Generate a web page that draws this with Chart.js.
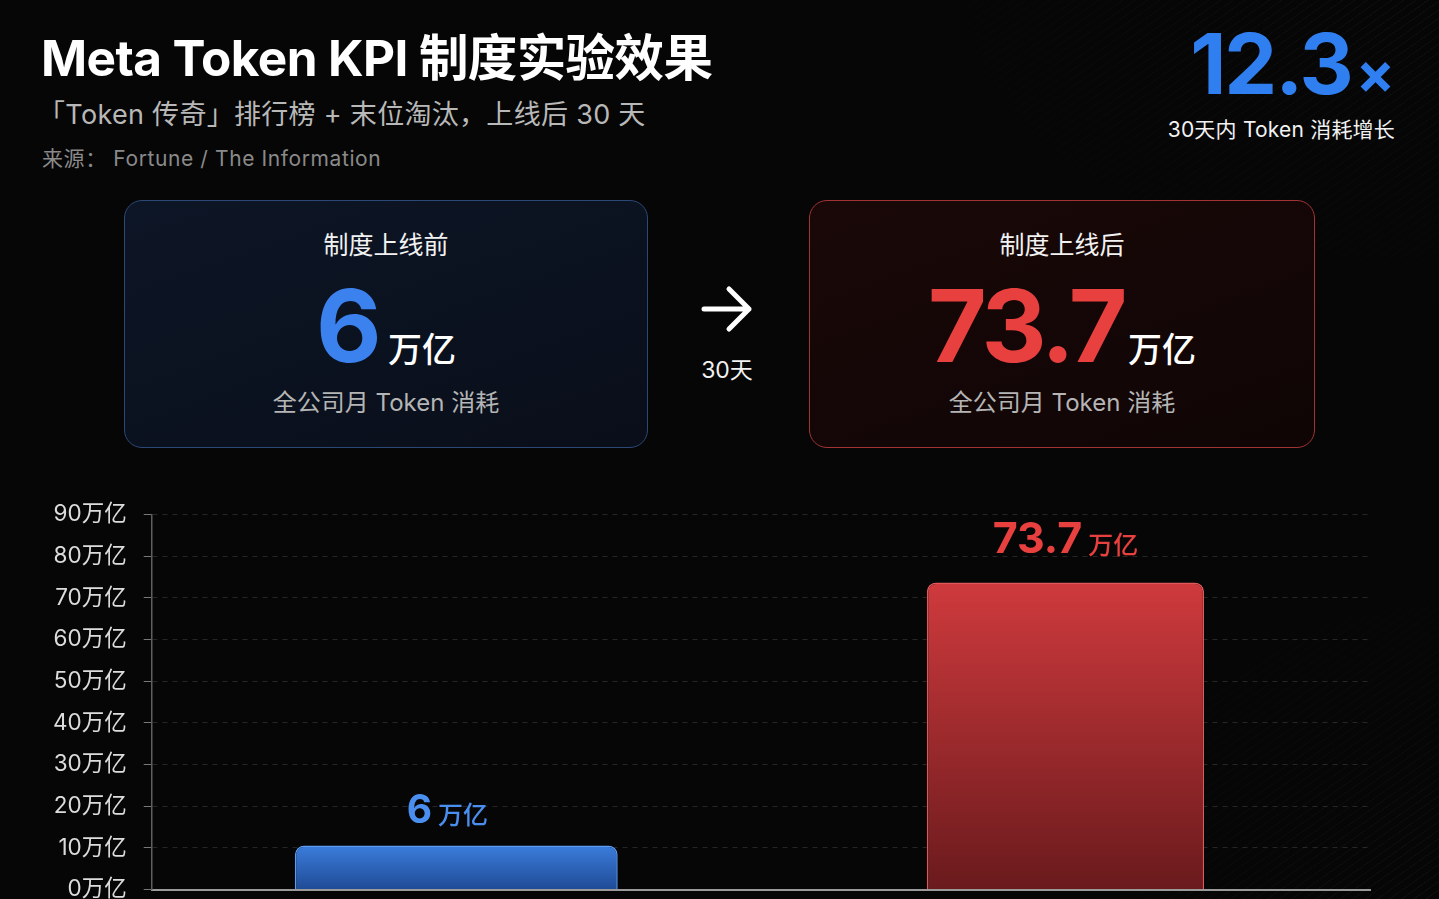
<!DOCTYPE html>
<html lang="zh-CN">
<head>
<meta charset="utf-8">
<title>Meta Token KPI 制度实验效果</title>
<script src="https://cdn.jsdelivr.net/npm/chart.js@4.4.1/dist/chart.umd.min.js"></script>
<style>
    html, body {
        margin: 0;
        padding: 0;
    }
    body {
        width: 1439px;
        height: 899px;
        overflow: hidden;
        position: relative;
        background: #060606;
        font-family: "Inter", "Noto Sans CJK SC", sans-serif;
        color: #fff;
    }
    .streaks {
        position: absolute;
        inset: 0;
        background: repeating-linear-gradient(-35deg, rgba(255,255,255,0.035) 0 1px, transparent 1px 7px);
        -webkit-mask-image: radial-gradient(ellipse 45% 40% at 100% 0%, #000 0%, transparent 100%),
                            radial-gradient(ellipse 30% 45% at 100% 100%, #000 0%, transparent 100%);
        mask-image: radial-gradient(ellipse 45% 40% at 100% 0%, #000 0%, transparent 100%),
                    radial-gradient(ellipse 30% 45% at 100% 100%, #000 0%, transparent 100%);
        pointer-events: none;
    }
    .title {
        position: absolute;
        left: 41px;
        top: 19px;
        font-size: 49.5px;
        font-weight: 700;
        letter-spacing: -0.6px;
        white-space: nowrap;
    }
    .subtitle {
        position: absolute;
        left: 38px;
        top: 93px;
        font-size: 27px;
        color: #b8b8b8;
        letter-spacing: 0.3px;
        white-space: nowrap;
    }
    .source {
        position: absolute;
        left: 42px;
        top: 142px;
        font-size: 21px;
        color: #8a8a8a;
        letter-spacing: 0.6px;
        white-space: nowrap;
    }
    .multiple {
        position: absolute;
        right: 44px;
        top: 14px;
        text-align: right;
    }
    .multiple .big {
        font-size: 84px;
        font-weight: 700;
        color: #2f7ff0;
        letter-spacing: -2px;
        line-height: 100px;
    }
    .multiple .big small {
        font-size: 58px;
        letter-spacing: 0;
        margin-left: 4px;
    }
    .multiple .cap {
        font-size: 21px;
        color: #f2f2f2;
        margin-top: -10px;
        letter-spacing: 0.2px;
    }
    .card {
        position: absolute;
        top: 200px;
        height: 248px;
        border-radius: 18px;
        box-sizing: border-box;
        text-align: center;
    }
    .card.before {
        left: 124px;
        width: 524px;
        border: 1.5px solid #2c4877;
        background: linear-gradient(160deg, #0d1626 0%, #090e19 100%);
    }
    .card.after {
        left: 809px;
        width: 506px;
        border: 1.5px solid #a13334;
        background: linear-gradient(160deg, #1a0808 0%, #0f0505 100%);
    }
    .card .head {
        position: absolute;
        left: 0; right: 0;
        top: 24px;
        font-size: 25px;
        color: #f2f2f2;
    }
    .card .value {
        position: absolute;
        left: 0; right: 0;
        top: 64px;
        white-space: nowrap;
    }
    .card .num {
        font-size: 101px;
        font-weight: 700;
        letter-spacing: -3.5px;
        line-height: 120px;
    }
    .card .unit {
        font-size: 34px;
        font-weight: 500;
        color: #fff;
        margin-left: 10px;
    }
    .card.after .unit { margin-left: 4px; }
    .card.before .num { color: #3b82ee; }
    .card.after .num { color: #e8403f; }
    .card .foot {
        position: absolute;
        left: 0; right: 0;
        top: 182px;
        font-size: 24px;
        color: #b5b5b5;
    }
    .arrow {
        position: absolute;
        left: 700px;
        top: 284px;
    }
    .days {
        position: absolute;
        left: 690px;
        width: 74px;
        top: 351px;
        text-align: center;
        font-size: 23px;
        color: #f2f2f2;
    }
    #chart-box {
        position: absolute;
        left: 0;
        top: 484px;
        width: 1439px;
        height: 436px;
    }
</style>
</head>
<body>
<div class="streaks"></div>

<div class="title">Meta Token KPI 制度实验效果</div>
<div class="subtitle">「Token 传奇」排行榜 + 末位淘汰，上线后 30 天</div>
<div class="source">来源：&nbsp;Fortune / The Information</div>

<div class="multiple">
    <div class="big"><span id="multiple-num"></span><small>×</small></div>
    <div class="cap">30天内 Token 消耗增长</div>
</div>

<div class="card before">
    <div class="head" id="head-0"></div>
    <div class="value"><span class="num" id="num-0"></span><span class="unit">万亿</span></div>
    <div class="foot">全公司月 Token 消耗</div>
</div>

<svg class="arrow" width="56" height="50" viewBox="0 0 56 50">
    <path d="M4 25 H49 M29 5 L49 25 L29 45" fill="none" stroke="#fff" stroke-width="5" stroke-linecap="round" stroke-linejoin="round"/>
</svg>
<div class="days">30天</div>

<div class="card after">
    <div class="head" id="head-1"></div>
    <div class="value"><span class="num" id="num-1"></span><span class="unit">万亿</span></div>
    <div class="foot">全公司月 Token 消耗</div>
</div>

<div id="chart-box"><canvas id="tokenChart"></canvas></div>

<script>
// monthly company-wide token use, in 万亿 (trillion)
const categories = ['制度上线前', '制度上线后'];
const tokenValues = [6, 73.7];
const unitLabel = '万亿';
const yTickValues = [0, 10, 20, 30, 40, 50, 60, 70, 80, 90];

// header text comes from the same numbers
document.getElementById('head-0').innerText = categories[0];
document.getElementById('head-1').innerText = categories[1];
document.getElementById('num-0').innerText = tokenValues[0];
document.getElementById('num-1').innerText = tokenValues[1];
document.getElementById('multiple-num').innerText = (tokenValues[1] / tokenValues[0]).toFixed(1);

const barStyles = [
    { top: '#3b7ddc', bottom: '#1f4b96', border: '#5c9cf4', label: '#4a8ff0', width: 0.53, minLen: 44, gap: 23, shift: -9 },
    { top: '#cf3a3d', bottom: '#6a1a1d', border: '#e0585a', label: '#e8403f', width: 0.455, minLen: 0, gap: 29, shift: 0 }
];

function barGradient(index) {
    return function(context) {
        const chart = context.chart;
        const area = chart.chartArea;
        const style = barStyles[index];
        if (!area) {
            return style.top;
        }
        const yScale = chart.scales.y;
        let top = yScale.getPixelForValue(tokenValues[index]);
        top = Math.min(top, area.bottom - style.minLen);
        const g = chart.ctx.createLinearGradient(0, top, 0, area.bottom);
        g.addColorStop(0, style.top);
        g.addColorStop(1, style.bottom);
        return g;
    };
}

const datasets = categories.map(function(name, i) {
    return {
        label: name,
        data: tokenValues.map(function(v, j) { return j === i ? v : null; }),
        backgroundColor: barGradient(i),
        borderColor: barStyles[i].border,
        borderWidth: 1.5,
        borderSkipped: 'bottom',
        borderRadius: { topLeft: 9, topRight: 9, bottomLeft: 0, bottomRight: 0 },
        barPercentage: barStyles[i].width,
        categoryPercentage: 1,
        minBarLength: barStyles[i].minLen
    };
});

// "6 万亿" / "73.7 万亿" above each bar
const valueLabels = {
    id: 'valueLabels',
    afterDatasetsDraw(chart) {
        const ctx = chart.ctx;
        chart.data.datasets.forEach(function(ds, i) {
            const meta = chart.getDatasetMeta(i);
            meta.data.forEach(function(bar, j) {
                const v = ds.data[j];
                if (v === null) return;
                const numText = String(v);
                const numFont = i === 0 ? 'bold 39px Inter, "Noto Sans CJK SC"' : 'bold 43px Inter, "Noto Sans CJK SC"';
                const unitFont = '500 25px "Noto Sans CJK SC"';
                ctx.save();
                ctx.font = numFont;
                const nw = ctx.measureText(numText).width;
                ctx.font = unitFont;
                const uw = ctx.measureText(unitLabel).width;
                const gap = 6;
                const startX = bar.x - (nw + gap + uw) / 2 + barStyles[i].shift;
                const baseY = bar.y - barStyles[i].gap;
                ctx.fillStyle = barStyles[i].label;
                ctx.textBaseline = 'alphabetic';
                ctx.textAlign = 'left';
                ctx.font = numFont;
                ctx.fillText(numText, startX, baseY);
                ctx.font = unitFont;
                ctx.fillText(unitLabel, startX + nw + gap, baseY + 1);
                ctx.restore();
            });
        });
    }
};

const chartCtx = document.getElementById('tokenChart').getContext('2d');
const tokenChart = new Chart(chartCtx, {
    type: 'bar',
    data: {
        labels: categories,
        datasets: datasets
    },
    options: {
        responsive: true,
        maintainAspectRatio: false,
        animation: false,
        grouped: false,
        layout: {
            padding: { left: 36, right: 69, top: 1, bottom: 16 }
        },
        plugins: {
            legend: { display: false },
            tooltip: { enabled: false }
        },
        scales: {
            x: {
                grid: { display: false },
                ticks: { display: false },
                border: { display: true, color: '#9a9a9a', width: 2 }
            },
            y: {
                min: 0,
                max: yTickValues[yTickValues.length - 1],
                afterBuildTicks: function(scale) {
                    scale.ticks = yTickValues.map(function(v) { return { value: v }; });
                },
                ticks: {
                    color: '#dcdcdc',
                    padding: 17,
                    font: { family: 'Inter, "Noto Sans CJK SC"', size: 22.5 },
                    callback: function(value) { return value + unitLabel; }
                },
                grid: {
                    color: 'rgba(255,255,255,0.13)',
                    lineWidth: 1,
                    tickLength: 8,
                    tickColor: '#777',
                    tickBorderDash: [0, 0]
                },
                border: { display: true, color: '#5e5e5e', width: 1.5, dash: [5, 5] }
            }
        }
    },
    plugins: [valueLabels]
});
</script>
</body>
</html>
